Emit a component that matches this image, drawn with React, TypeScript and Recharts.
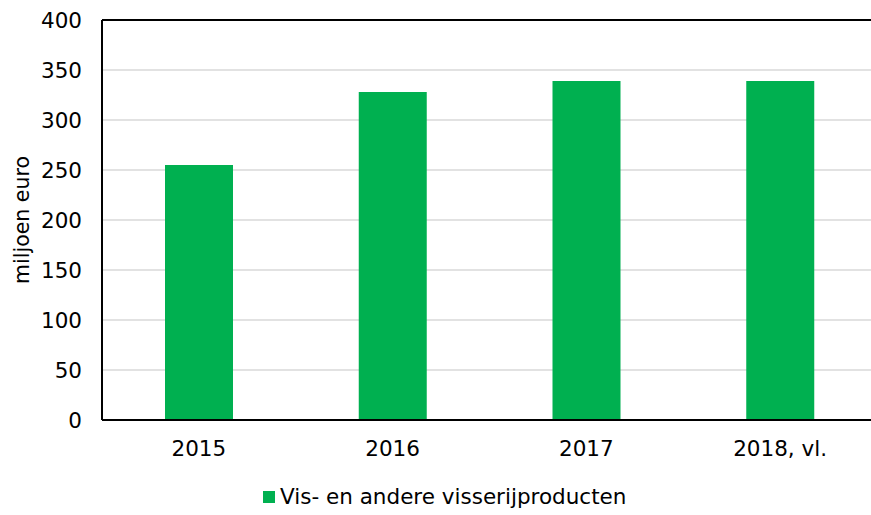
import { Bar, BarChart, CartesianGrid, ReferenceLine, XAxis, YAxis } from "recharts";

const years = ["2015", "2016", "2017", "2018, vl."];
const values = [255, 328, 339, 339];
const yTicks = [0, 50, 100, 150, 200, 250, 300, 350, 400];
const seriesName = "Vis- en andere visserijproducten";

const FONT = "Verdana, 'DejaVu Sans', sans-serif";
const GREEN = "#00b050";

export default function App() {
  const data = years.map((year, i) => ({ year, value: values[i] }));

  return (
    <div
      style={{
        position: "absolute",
        left: 0,
        top: 0,
        width: 871,
        height: 515,
        overflow: "hidden",
        background: "#fff",
        fontFamily: FONT,
      }}
    >
      <BarChart
        width={880}
        height={515}
        data={data}
        margin={{ top: 20, right: 3, bottom: 65, left: 0 }}
        barSize={68}
      >
        <CartesianGrid vertical={false} stroke="#d9d9d9" strokeWidth={1.5} />
        <XAxis
          dataKey="year"
          axisLine={{ stroke: "#000", strokeWidth: 2 }}
          tickLine={false}
          tickSize={0}
          tickMargin={21}
          height={30}
          tick={{ fill: "#000", fontSize: 21.5, fontFamily: FONT }}
        />
        <YAxis
          domain={[0, 400]}
          ticks={yTicks}
          interval={0}
          width={102}
          axisLine={{ stroke: "#000", strokeWidth: 2 }}
          tickLine={false}
          tickSize={0}
          tickMargin={20}
          tick={{ fill: "#000", fontSize: 21.5, fontFamily: FONT }}
          label={{
            value: "miljoen euro",
            angle: -90,
            position: "insideLeft",
            offset: 22,
            style: { fill: "#000", fontSize: 20.5, fontFamily: FONT, textAnchor: "middle" },
          }}
        />
        <ReferenceLine y={400} stroke="#000" strokeWidth={2} />
        <Bar dataKey="value" name={seriesName} fill={GREEN} isAnimationActive={false} />
      </BarChart>
      <div
        style={{
          position: "absolute",
          top: 484,
          left: 263,
          display: "flex",
          alignItems: "center",
          fontSize: 21.5,
          color: "#000",
          whiteSpace: "nowrap",
        }}
      >
        <span style={{ display: "inline-block", width: 12, height: 12, background: GREEN, marginRight: 5 }} />
        <span>{seriesName}</span>
      </div>
    </div>
  );
}
